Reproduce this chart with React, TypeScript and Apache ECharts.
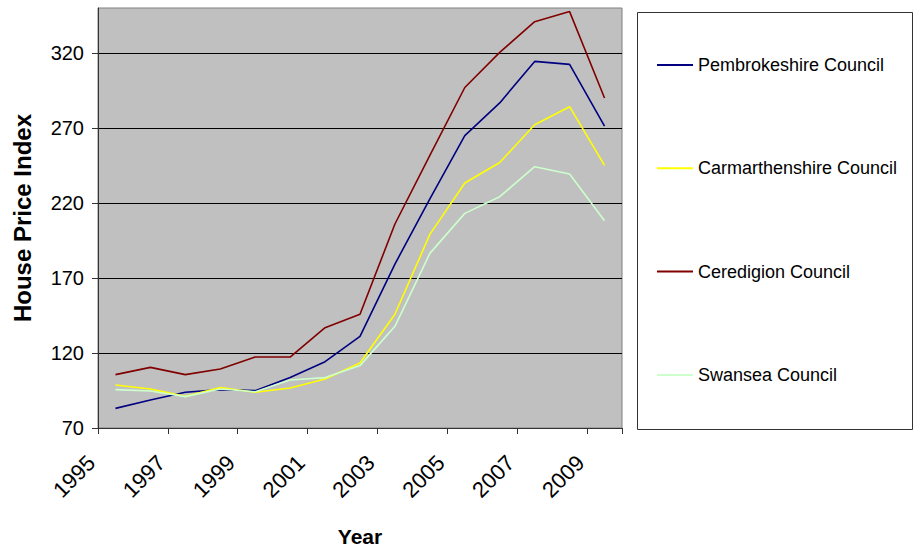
import React, { useEffect, useRef } from "react";
import * as echarts from "echarts";

const years = ["1995","1996","1997","1998","1999","2000","2001","2002","2003","2004","2005","2006","2007","2008","2009"];
const pembrokeshire = [83.1, 88.7, 93.8, 95.6, 94.9, 103.6, 114.2, 131.1, 179.3, 222.7, 264.9, 286.7, 314.4, 312.4, 271.3];
const carmarthenshire = [98.7, 96.0, 91.1, 96.9, 93.8, 96.7, 102.7, 113.3, 145.8, 199.1, 233.3, 247.0, 272.2, 284.2, 245.1];
const ceredigion = [105.6, 110.4, 105.6, 109.3, 117.3, 117.3, 136.9, 145.8, 206.0, 251.8, 297.0, 320.4, 340.9, 347.6, 290.0];
const swansea = [95.6, 94.7, 90.9, 96.0, 94.2, 102.0, 103.6, 111.6, 137.8, 186.4, 213.1, 224.2, 244.2, 239.3, 208.2];
const yTicks = [70, 120, 170, 220, 270, 320];

const seriesDefs = [
  { name: "Pembrokeshire Council", data: pembrokeshire, color: "#000080" },
  { name: "Carmarthenshire Council", data: carmarthenshire, color: "#FFFF00" },
  { name: "Ceredigion Council", data: ceredigion, color: "#800000" },
  { name: "Swansea Council", data: swansea, color: "#CCFFCC" },
];

const FONT = "'Liberation Sans', Arial, sans-serif";

export default function App() {
  const ref = useRef<HTMLDivElement>(null);
  useEffect(() => {
    if (!ref.current) return;
    const chart = echarts.init(ref.current, undefined, { renderer: "svg" });
    chart.setOption({
      animation: false,
      backgroundColor: "#ffffff",
      textStyle: { fontFamily: FONT },
      grid: {
        left: 98,
        right: 293,
        top: 8,
        bottom: 123,
        show: true,
        backgroundColor: "#c0c0c0",
        borderColor: "#808080",
        borderWidth: 1,
        containLabel: false,
      },
      legend: {
        orient: "vertical",
        left: 657,
        top: 55,
        padding: 0,
        itemWidth: 36,
        itemHeight: 2,
        itemGap: 83.3,
        icon: "rect",
        textStyle: { fontSize: 18, color: "#000", fontFamily: FONT, lineHeight: 20 },
        data: seriesDefs.map((s) => s.name),
      },
      xAxis: {
        type: "category",
        data: years,
        boundaryGap: true,
        name: "Year",
        nameLocation: "middle",
        nameGap: 98,
        nameTextStyle: { fontSize: 21, fontWeight: "bold", color: "#000", fontFamily: FONT },
        axisLine: { lineStyle: { color: "#333", width: 1 } },
        axisTick: { show: true, interval: 1, length: 6, lineStyle: { color: "#333" } },
        axisLabel: {
          interval: 1,
          rotate: 45,
          fontSize: 22,
          color: "#000",
          margin: 7,
          padding: [0, 34, 0, 0],
          fontFamily: FONT,
        },
        splitLine: { show: false },
      },
      yAxis: {
        type: "value",
        min: 70,
        max: 350,
        interval: 50,
        name: "House Price Index",
        nameLocation: "middle",
        nameGap: 64,
        nameTextStyle: { fontSize: 24, fontWeight: "bold", color: "#000", fontFamily: FONT },
        axisLine: { show: true, lineStyle: { color: "#333", width: 1 } },
        axisTick: { show: true, length: 6, lineStyle: { color: "#333" }, customValues: yTicks },
        axisLabel: { fontSize: 20, color: "#000", margin: 14, fontFamily: FONT, customValues: yTicks },
        splitLine: { show: true, lineStyle: { color: "#000", width: 1 } },
      },
      graphic: [
        {
          type: "rect",
          z: 0,
          shape: { x: 637.5, y: 12.5, width: 275, height: 417 },
          style: { fill: "#ffffff", stroke: "#333", lineWidth: 1 },
        },
      ],
      series: seriesDefs.map((s) => ({
        name: s.name,
        type: "line",
        data: s.data,
        symbol: "none",
        showSymbol: false,
        color: s.color,
        lineStyle: { color: s.color, width: 1.6 },
        itemStyle: { color: s.color },
      })),
    });
    return () => chart.dispose();
  }, []);
  return (
    <div
      ref={ref}
      style={{ position: "fixed", left: 0, top: 0, width: 915, height: 552 }}
    />
  );
}
